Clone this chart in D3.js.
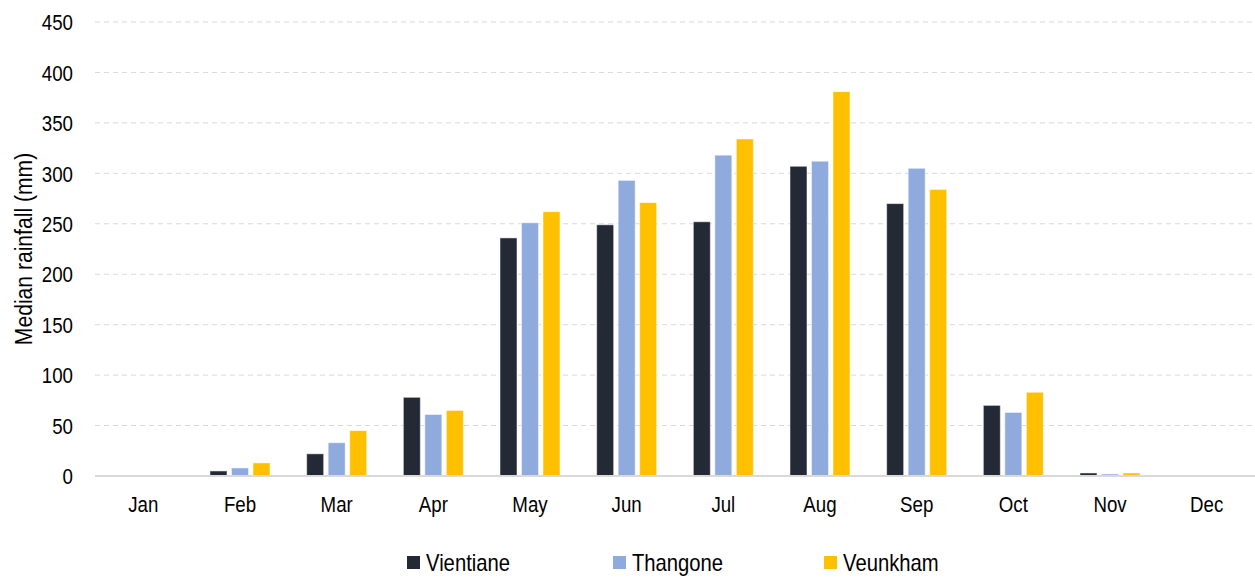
<!DOCTYPE html>
<html>
<head>
<meta charset="utf-8">
<script src="https://cdn.jsdelivr.net/npm/d3@7"></script>
<style>
  body { margin: 0; background: #fff; }
  text { font-family: "Liberation Sans", Arial, sans-serif; fill: #000; }
</style>
</head>
<body>
<div id="chart"></div>
<script>
// Data (median rainfall, mm)
const MONTHS = ['Jan', 'Feb', 'Mar', 'Apr', 'May', 'Jun', 'Jul', 'Aug', 'Sep', 'Oct', 'Nov', 'Dec']
const SERIES = ['Vientiane', 'Thangone', 'Veunkham']
const VIENTIANE = [0, 5, 22, 78, 236, 249, 252, 307, 270, 70, 3, 0]
const THANGONE = [0, 8, 33, 61, 251, 293, 318, 312, 305, 63, 2, 0]
const VEUNKHAM = [0, 13, 45, 65, 262, 271, 334, 381, 284, 83, 3, 0]
const Y_TICKS = [0, 50, 100, 150, 200, 250, 300, 350, 400, 450]
const COLORS = ['#232a35', '#8faadc', '#ffc000']

// Chart dimensions
const WIDTH = 1255
const HEIGHT = 579
const margin = { top: 22, right: 0, bottom: 103, left: 95 }
// the original uses a narrow font, squeeze Liberation Sans to look like it
const NARROW = 'scale(0.85,1)'

var svg = d3.select('#chart').append('svg')
    .attr('width', WIDTH)
    .attr('height', HEIGHT)

var x = d3.scaleBand().domain(MONTHS)
    .range([margin.left, WIDTH - margin.right])

var x1 = d3.scaleBand().domain(SERIES)
    .range([-30, 30])
    .paddingInner(0.21)

var y = d3.scaleLinear().domain([0, 450])
    .range([HEIGHT - margin.bottom, margin.top])

var color = d3.scaleOrdinal().domain(SERIES).range(COLORS)

// Gridlines
svg.append('g').selectAll('line').data(Y_TICKS.filter(d => d > 0)).enter()
    .append('line')
    .attr('x1', margin.left).attr('x2', WIDTH)
    .attr('y1', d => y(d)).attr('y2', d => y(d))
    .attr('stroke', '#d9d9d9')
    .attr('stroke-width', 1)
    .attr('stroke-dasharray', '5,4')

// Y axis labels
var yAxis = svg.append('g')
    .attr('transform', 'translate(' + (margin.left - 22) + ',0)')
    .call(d3.axisLeft(y).tickValues(Y_TICKS).tickSize(0).tickPadding(0))
yAxis.select('.domain').remove()
yAxis.selectAll('text')
    .style('font-size', '22px')
    .attr('dy', '0.35em')
    .attr('transform', NARROW)

// Y axis title
svg.append('text')
    .attr('transform', 'translate(32,' + ((margin.top + HEIGHT - margin.bottom) / 2) + ') rotate(-90) scale(0.88,1)')
    .attr('text-anchor', 'middle')
    .style('font-size', '24px')
    .text('Median rainfall (mm)')

// Bars
var rows = MONTHS.map((m, i) => ({
    month: m,
    values: [VIENTIANE[i], THANGONE[i], VEUNKHAM[i]].map((v, j) => ({ series: SERIES[j], value: v }))
}))

var groups = svg.append('g').selectAll('g').data(rows).enter().append('g')
    .attr('transform', d => 'translate(' + (x(d.month) + x.bandwidth() / 2) + ',0)')

groups.selectAll('rect').data(d => d.values).enter().append('rect')
    .attr('x', d => x1(d.series))
    .attr('width', x1.bandwidth())
    .attr('y', d => y(d.value))
    .attr('height', d => y(0) - y(d.value))
    .attr('fill', d => color(d.series))
    .attr('stroke', '#ffffff')
    .attr('stroke-opacity', 0.5)
    .attr('stroke-width', 1)

// Zero line
svg.append('line')
    .attr('x1', margin.left).attr('x2', WIDTH)
    .attr('y1', y(0)).attr('y2', y(0))
    .attr('stroke', '#d9d9d9')
    .attr('stroke-width', 2)

// X axis labels
var xAxis = svg.append('g')
    .attr('transform', 'translate(0,' + (y(0) + 36) + ')')
    .call(d3.axisBottom(x).tickSize(0).tickPadding(0))
xAxis.select('.domain').remove()
xAxis.selectAll('text')
    .style('font-size', '22px')
    .attr('y', 0).attr('dy', 0)
    .attr('transform', NARROW)

// Legend
const LEGEND_X = [407, 613, 824]
var legend = svg.append('g').selectAll('g').data(SERIES).enter().append('g')
    .attr('transform', (d, i) => 'translate(' + LEGEND_X[i] + ',556)')
legend.append('rect')
    .attr('width', 13).attr('height', 13)
    .attr('fill', d => color(d))
legend.append('text')
    .attr('transform', 'translate(19,15) scale(0.88,1)')
    .style('font-size', '23px')
    .text(d => d)
</script>
</body>
</html>
